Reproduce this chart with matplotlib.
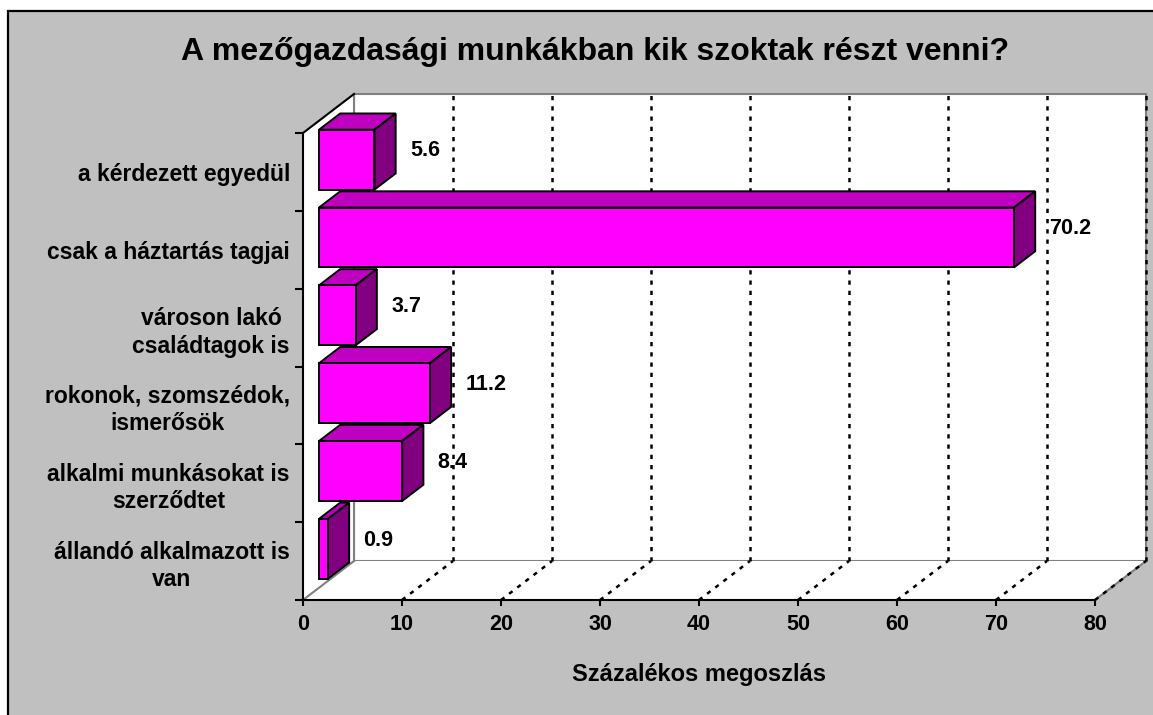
import matplotlib
matplotlib.use("Agg")
import matplotlib.pyplot as plt
from matplotlib.patches import Polygon, Rectangle

plt.rcParams['font.family'] = ['Liberation Sans', 'DejaVu Sans']
plt.rcParams['font.weight'] = 'bold'

# ---- data ----
categories = [
    "a kérdezett egyedül",
    "csak a háztartás tagjai",
    "városon lakó\ncsaládtagok is",
    "rokonok, szomszédok,\nismerősök",
    "alkalmi munkásokat is\nszerződtet",
    "állandó alkalmazott is\nvan",
]
values = [5.6, 70.2, 3.7, 11.2, 8.4, 0.9]
value_labels = ["5.6", "70.2", "3.7", "11.2", "8.4", "0.9"]
x_ticks = [0, 10, 20, 30, 40, 50, 60, 70, 80]
title = "A mezőgazdasági munkákban kik szoktak részt venni?"
x_title = "Százalékos megoszlás"

W, H = 1153, 715
fig = plt.figure(figsize=(W / 100, H / 100), dpi=100)
fig.patch.set_facecolor('white')

# outer chart area frame
fig.patches.append(Rectangle((8 / W, -0.02), 1.2, (H - 11) / H + 0.02,
                             transform=fig.transFigure, facecolor='#C0C0C0',
                             edgecolor='black', lw=1.6, zorder=-10))

ax = fig.add_axes([303 / W, (H - 600) / H, (1095 - 303) / W, (600 - 133) / H])
ax.set_zorder(1)
ax.patch.set_visible(False)
xmax = x_ticks[-1]
n = len(categories)
ax.set_xlim(0, xmax)
ax.set_ylim(0, n)

# 3D depth offsets (data units)
DX = 51 / ((1095 - 303) / xmax)
DY = 39 / ((600 - 133) / n)
d0, d1 = 0.314, 0.73
hh = 0.385

def poly(pts, fc, ec, lw, z, ls='-'):
    p = Polygon(pts, closed=True, facecolor=fc, edgecolor=ec, lw=lw,
                transform=ax.transData, clip_on=False, zorder=z, linestyle=ls)
    ax.add_patch(p)

# walls
poly([(DX, DY), (xmax + DX, DY), (xmax + DX, n + DY), (DX, n + DY)], 'white', '#808080', 1.5, 0.5)
poly([(0, 0), (DX, DY), (DX, n + DY), (0, n)], 'white', 'none', 0, 0.5)
poly([(0, 0), (xmax, 0), (xmax + DX, DY), (DX, DY)], 'white', 'none', 0, 0.5)
# wall edges
ax.plot([0, DX], [0, DY], color='#808080', lw=1.5, clip_on=False, zorder=0.7)
ax.plot([xmax, xmax + DX], [0, DY], color='#808080', lw=1.5, clip_on=False, zorder=0.7)
ax.plot([0, DX], [n, n + DY], color='black', lw=1.5, clip_on=False, zorder=0.8)
ax.plot([DX, DX], [DY, n + DY], color='#808080', lw=1.5, clip_on=False, zorder=0.7)

# gridlines (back wall and floor)
for xv in x_ticks[1:]:
    ax.plot([xv + DX, xv + DX], [DY, n + DY], color='black', lw=1.8,
            linestyle=(0, (1.7, 2.4)), clip_on=False, zorder=0.75)
    ax.plot([xv, xv + DX], [0, DY], color='black', lw=1.8,
            linestyle=(0, (1.7, 2.4)), clip_on=False, zorder=0.75)

# bars (bottom to top so upper bars overlap)
for i in range(n - 1, -1, -1):
    v = values[i]
    yc = n - i - 0.5
    y0, y1 = yc - hh, yc + hh
    a0x, a0y = d0 * DX, d0 * DY
    a1x, a1y = d1 * DX, d1 * DY
    # top face
    poly([(a0x, y1 + a0y), (v + a0x, y1 + a0y), (v + a1x, y1 + a1y), (a1x, y1 + a1y)],
         '#C000C0', 'black', 1.4, 2 + (n - i) * 0.1)
    # side face
    poly([(v + a0x, y0 + a0y), (v + a1x, y0 + a1y), (v + a1x, y1 + a1y), (v + a0x, y1 + a0y)],
         '#800080', 'black', 1.4, 2 + (n - i) * 0.1)
    # front face
    poly([(a0x, y0 + a0y), (v + a0x, y0 + a0y), (v + a0x, y1 + a0y), (a0x, y1 + a0y)],
         '#FF00FF', 'black', 1.4, 2.05 + (n - i) * 0.1)
    ax.text(v + 5.2, yc + 0.27, value_labels[i], ha='left', va='center',
            fontsize=15.5, fontweight='bold', zorder=5, clip_on=False)

# axes/spines
for s in ['top', 'right']:
    ax.spines[s].set_visible(False)
for s in ['left', 'bottom']:
    ax.spines[s].set_color('black')
    ax.spines[s].set_linewidth(1.5)
    ax.spines[s].set_zorder(1)

ax.set_xticks(x_ticks)
ax.set_xticklabels([str(t) for t in x_ticks], fontsize=15.5, fontweight='bold')
ax.tick_params(axis='x', direction='out', length=4, width=1.5, pad=6)
ax.set_yticks(range(n + 1))
ax.set_yticklabels([''] * (n + 1))
ax.tick_params(axis='y', which='major', direction='out', length=6, width=1.5)
ax.set_yticks([n - i - 0.5 for i in range(n)], categories, minor=True)
ax.tick_params(axis='y', which='minor', length=0, pad=9.4, labelsize=16.5)
for lbl in ax.get_yticklabels(minor=True):
    lbl.set_multialignment('center')
    lbl.set_fontweight('bold')
    lbl.set_linespacing(1.25)

fig.text(595 / W, 1 - 52 / H, title, ha='center', va='center', fontsize=23, fontweight='bold')
fig.text(699 / W, 1 - 675 / H, x_title, ha='center', va='center', fontsize=17, fontweight='bold')

fig.savefig('out.png', dpi=100)
